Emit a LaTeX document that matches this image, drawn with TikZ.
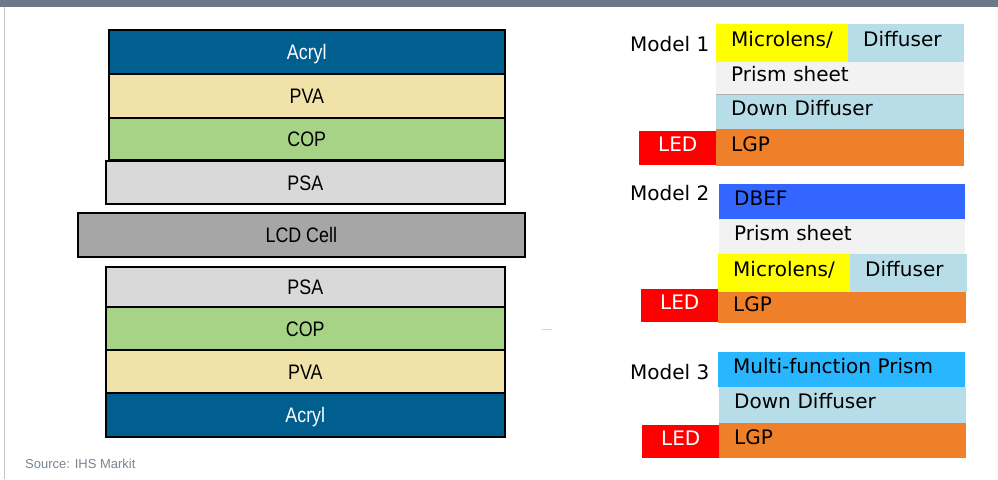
\documentclass[tikz,border=0pt]{standalone}
\usepackage{fontspec}
\usepackage{xcolor}
\usepackage{tikz}
\usetikzlibrary{positioning}
\newfontfamily\stackfont[FakeStretch=0.85]{Liberation Sans}
\newfontfamily\sourcefont{Liberation Sans}
\newfontfamily\modelfont{DejaVu Sans}
\definecolor{topbar}{RGB}{110,121,135}
\definecolor{acryl}{RGB}{0,95,142}
\definecolor{pva}{RGB}{240,226,168}
\definecolor{cop}{RGB}{166,211,134}
\definecolor{psa}{RGB}{217,217,217}
\definecolor{lcd}{RGB}{166,166,166}
\definecolor{microlens}{RGB}{255,255,0}
\definecolor{diffuser}{RGB}{183,222,232}
\definecolor{prism}{RGB}{242,242,242}
\definecolor{lgp}{RGB}{240,127,42}
\definecolor{dbef}{RGB}{51,102,255}
\definecolor{multi}{RGB}{41,182,255}
\definecolor{source}{RGB}{120,132,146}
\tikzset{
  film/.style={draw=black, line width=1.6pt, anchor=north west, inner sep=0pt,
    text height=15.5pt, text depth=0pt, font=\stackfont\fontsize{21}{24}\selectfont},
  sheet/.style={anchor=north west, inner sep=0pt, inner xsep=15pt, align=left,
    text height=15pt, text depth=8pt, font=\modelfont\fontsize{20}{24}\selectfont},
  led/.style={sheet, fill=red, text=white, inner xsep=0pt, align=center},
  model/.style={anchor=base west, inner sep=0pt, font=\modelfont\fontsize{20}{24}\selectfont}
}

\begin{document}
\begin{tikzpicture}[x=1pt,y=-1pt]
  \useasboundingbox (0,0) rectangle (998,479);
  \fill[topbar] (0,0) rectangle (998,7);
  \draw[gray!45, line width=1pt] (4.5,7) -- (4.5,479);

  % polarizer stack
  \node[film, fill=acryl, text=white, minimum width=396pt, minimum height=44pt] at (108,29) (topacryl) {Acryl};
  \node[film, fill=pva, minimum width=396pt, minimum height=44pt] at (108,73) (toppva) {PVA};
  \node[film, fill=cop, minimum width=396pt, minimum height=42pt] at (108,117) (topcop) {COP};
  \node[film, fill=psa, minimum width=399pt, minimum height=43pt] at (105,160) (toppsa) {PSA};
  \node[film, fill=lcd, minimum width=447pt, minimum height=44pt] at (77,212) (lcdcell) {LCD Cell};
  \node[film, fill=psa, minimum width=399pt, minimum height=40pt] at (105,266) (botpsa) {PSA};
  \node[film, fill=cop, minimum width=399pt, minimum height=43pt] at (105,306) (botcop) {COP};
  \node[film, fill=pva, minimum width=399pt, minimum height=43pt] at (105,349) (botpva) {PVA};
  \node[film, fill=acryl, text=white, minimum width=399pt, minimum height=44pt] at (105,392) (botacryl) {Acryl};
  \draw[pink, line width=1pt] (542,329) -- (552,329);

  \node[anchor=base west, inner sep=0pt, text=source, font=\sourcefont\fontsize{13}{15}\selectfont]
    at (25,468) (source) {Source: IHS Markit};

  % model 1
  \node[model] at (630,51) (modelone) {Model 1};
  \node[sheet, fill=microlens, text width=102pt, minimum height=38pt] at (716,24) (onemicro) {Microlens/};
  \node[sheet, fill=diffuser, text width=86pt, minimum height=38pt] at (848,24) (onediff) {Diffuser};
  \node[sheet, fill=prism, text width=218pt, minimum height=32pt] at (716,62) (oneprism) {Prism sheet};
  \node[sheet, fill=diffuser, text width=218pt, minimum height=35pt] at (716,94) (onedown) {Down Diffuser};
  \node[sheet, fill=lgp, text width=218pt, minimum height=37pt] at (716,129) (onelgp) {LGP};
  \node[led, text width=77pt, minimum height=34pt] at (639,131) (oneled) {LED};
  \draw[gray!60] (oneprism.south west) -- (oneprism.south east);

  % model 2
  \node[model] at (630,200) (modeltwo) {Model 2};
  \node[sheet, fill=dbef, text width=216pt, minimum height=35pt] at (719,184) (twodbef) {DBEF};
  \node[sheet, fill=prism, text width=216pt, minimum height=35pt] at (719,219) (twoprism) {Prism sheet};
  \node[sheet, fill=microlens, text width=102pt, minimum height=38pt] at (718,254) (twomicro) {Microlens/};
  \node[sheet, fill=diffuser, text width=87pt, minimum height=38pt] at (850,254) (twodiff) {Diffuser};
  \node[sheet, fill=lgp, text width=218pt, minimum height=31pt] at (718,292) (twolgp) {LGP};
  \node[led, text width=77pt, minimum height=33pt] at (641,289) (twoled) {LED};

  % model 3
  \node[model] at (630,379) (modelthree) {Model 3};
  \node[sheet, fill=multi, text width=217pt, minimum height=35pt] at (718,352) (threemulti) {Multi-function Prism};
  \node[sheet, fill=diffuser, text width=217pt, minimum height=36pt] at (719,387) (threedown) {Down Diffuser};
  \node[sheet, fill=lgp, text width=217pt, minimum height=35pt] at (719,423) (threelgp) {LGP};
  \node[led, text width=77pt, minimum height=33pt] at (642,425) (threeled) {LED};
\end{tikzpicture}
\end{document}
